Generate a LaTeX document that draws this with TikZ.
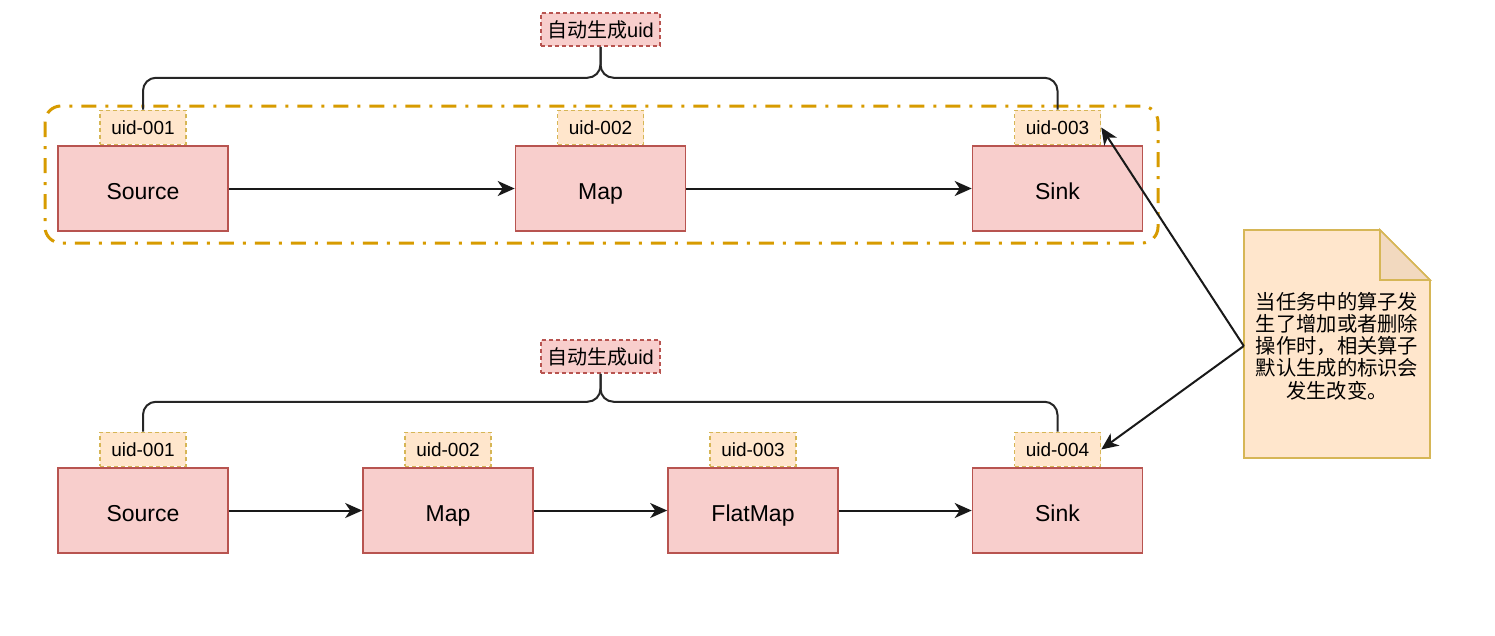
\documentclass[tikz,border=0pt]{standalone}
\usepackage{fontspec}
\setmainfont{Liberation Sans}
\newfontfamily\cjk{Noto Sans CJK SC}
\usetikzlibrary{calc,arrows.meta}
\definecolor{oppink}{HTML}{F8CECC}
\definecolor{opred}{HTML}{B85450}
\definecolor{uidfill}{HTML}{FFE6CC}
\definecolor{uidline}{HTML}{D6B656}
\definecolor{grpline}{HTML}{D79B00}
\definecolor{foldfill}{HTML}{F2D9BF}
\tikzset{
  op/.style={draw=opred, fill=oppink, line width=1.6pt, minimum width=170pt, minimum height=85pt, inner sep=0pt, text height=21pt, text depth=0pt, font=\fontsize{23}{26}\selectfont},
  uidbox/.style={draw=uidline, fill=uidfill, dash pattern=on 4pt off 3pt, line width=1.5pt, minimum width=86pt, minimum height=34pt, inner sep=0pt, font=\fontsize{19}{22}\selectfont},
  autobox/.style={draw=opred, fill=oppink, dash pattern=on 4pt off 3pt, line width=1.5pt, minimum width=119pt, minimum height=33pt, inner sep=0pt, font=\fontsize{20}{22}\selectfont},
  flow/.style={-{Stealth[length=17pt,width=15pt,inset=5pt]}, line width=2pt, draw=black!90},
  brace/.style={rounded corners=13pt, line width=2pt, draw=black!85},
}

\begin{document}
\begin{tikzpicture}[x=1pt,y=-1pt]
\useasboundingbox (0,0) rectangle (1495,635);

%上段のグループ枠
\draw[grpline, line width=3pt, dash pattern=on 15pt off 9pt on 3pt off 9pt, rounded corners=16pt] (45,106) rectangle (1158,243);

%上段
\node[op] (s1) at (143,188.5) {Source};
\node[op] (m1) at (600.5,188.5) {Map};
\node[op] (k1) at (1057.5,188.5) {Sink};
\node[uidbox, anchor=south] (u1) at (s1.north) {uid-001};
\node[uidbox, anchor=south] (u2) at (m1.north) {uid-002};
\node[uidbox, anchor=south] (u3) at (k1.north) {uid-003};
\node[autobox] (g1) at (600.5,29.5) {{\cjk 自动生成}uid};
\coordinate (b1) at ($(g1.south)+(0,31)$); %括弧の分岐点

\draw[brace] (g1.south) -- (b1) -| (u1.north);
\draw[brace] (g1.south) -- (b1) -| (u3.north);
\draw[flow] (s1) -- (m1);
\draw[flow] (m1) -- (k1);

%下段
\node[op] (s2) at (143,510.5) {Source};
\node[op] (m2) at (448,510.5) {Map};
\node[op] (f2) at (753,510.5) {FlatMap};
\node[op] (k2) at (1057.5,510.5) {Sink};
\node[uidbox, anchor=south] (v1) at (s2.north) {uid-001};
\node[uidbox, anchor=south] (v2) at (m2.north) {uid-002};
\node[uidbox, anchor=south] (v3) at (f2.north) {uid-003};
\node[uidbox, anchor=south] (v4) at (k2.north) {uid-004};
\node[autobox] (g2) at (600.5,356.5) {{\cjk 自动生成}uid};
\coordinate (b2) at ($(g2.south)+(0,28)$);

\draw[brace] (g2.south) -- (b2) -| (v1.north);
\draw[brace] (g2.south) -- (b2) -| (v4.north);
\draw[flow] (s2) -- (m2);
\draw[flow] (m2) -- (f2);
\draw[flow] (f2) -- (k2);

%注釈（折り返し付き）
\coordinate (nw) at (1244,230);
\coordinate (se) at (1430,458);
\draw[draw=uidline, fill=uidfill, line width=1.6pt] (nw) -- ($(nw -| se)+(-50,0)$) -- ($(nw -| se)+(0,50)$) -- (se) -- (nw |- se) -- cycle;
\draw[draw=uidline, fill=foldfill, line width=1.6pt] ($(nw -| se)+(-50,0)$) -- ($(nw -| se)+(-50,50)$) -- ($(nw -| se)+(0,50)$) -- cycle;
\node[minimum width=186pt, minimum height=228pt, inner sep=0pt, align=center, font=\cjk\fontsize{20.3}{22.2}\selectfont] (note) at ($(nw)!0.5!(se)+(0,2)$) {当任务中的算子发\\生了增加或者删除\\操作时，相关算子\\默认生成的标识会\\发生改变。};

\draw[flow] (note.west) -- (u3.east);
\draw[flow] (note.west) -- (v4.east);
\end{tikzpicture}
\end{document}
